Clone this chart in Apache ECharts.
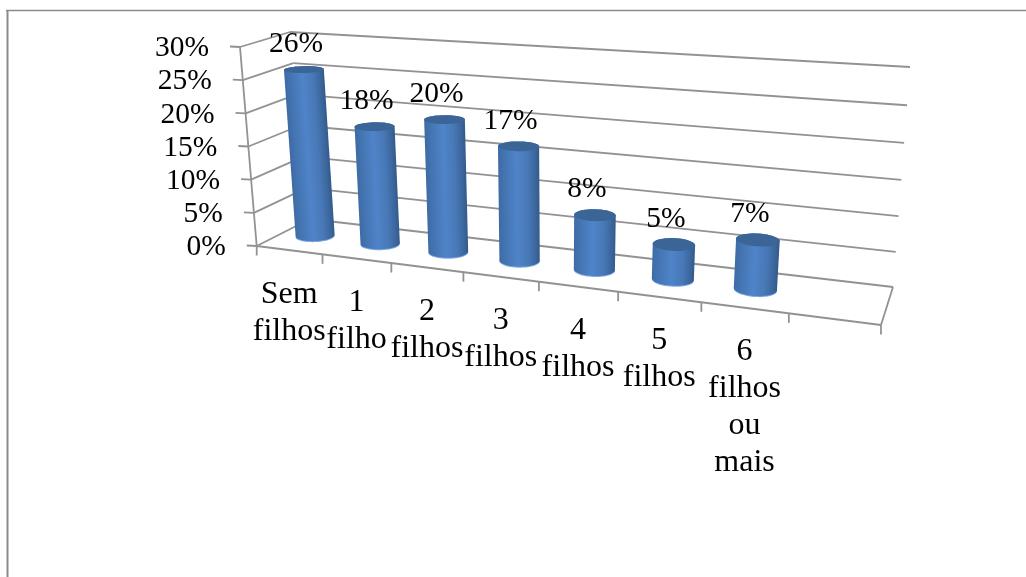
<!DOCTYPE html>
<html lang="pt">
<head>
<meta charset="utf-8">
<title>Número de filhos</title>
<style>html,body{margin:0;padding:0;background:#fff}#chart{width:1026px;height:577px}</style>
<script src="https://cdn.jsdelivr.net/npm/echarts@6/dist/echarts.min.js"></script>
</head>
<body>
<div id="chart"></div>
<script>
// The last category is an empty slot kept by the 3D axis.
const categories = ['Sem\nfilhos', '1\nfilho', '2\nfilhos', '3\nfilhos', '4\nfilhos', '5\nfilhos', '6\nfilhos\nou\nmais', ''];
const shares = [26, 18, 20, 17, 8, 5, 7];
const valueTicks = [0, 5, 10, 15, 20, 25, 30];

const FONT = '"Liberation Serif", "Times New Roman", serif';
const VALUE_SIZE = 29.5;
const CATEGORY_SIZE = 32;
const LINE = '#929292';

// Screen corners of the 3D box: front/back, left/right, bottom/top.
const box = {
  flb: [256.7, 246], flt: [240, 47],
  blb: [310, 219],   blt: [290, 32],
  frb: [881, 325],   frt: [901, 90],
  brb: [893, 287],   brt: [910, 67]
};

const mix = (a, b, t) => [a[0] + (b[0] - a[0]) * t, a[1] + (b[1] - a[1]) * t];

// Foreshortening along the category direction.
const warpX = u => u * 0.825 / (1 - 0.175 * u);

// t: warped position along the categories, v: height 0..1, w: depth 0 (front)..1 (back).
function project(t, v, w) {
  const k = -0.05 * t;
  const h = v * (1 + k) / (1 + k * v);
  const front = mix(mix(box.flb, box.frb, t), mix(box.flt, box.frt, t), h);
  const back = mix(mix(box.blb, box.brb, t), mix(box.blt, box.brt, t), h);
  return mix(front, back, w);
}

// Turns a pixel from the cartesian grid into fractions of the plot rectangle.
function toUnit(pt, sys) {
  return [(pt[0] - sys.x) / sys.width, (sys.y + sys.height - pt[1]) / sys.height];
}

function line(a, b, z2) {
  return {
    type: 'line', z2: z2 || 0,
    shape: { x1: a[0], y1: a[1], x2: b[0], y2: b[1] },
    style: { stroke: LINE, lineWidth: 1.8 }
  };
}

function label(text, x, y, align, verticalAlign, size, lineHeight) {
  return {
    type: 'text', z2: 20,
    style: {
      text, x, y, align, verticalAlign,
      fill: '#000', font: size + 'px ' + FONT, lineHeight: lineHeight || size
    }
  };
}

// Walls: one gridline per value tick, with its tick mark and label.
function renderValueTick(params, api) {
  const val = api.value(1);
  const v = toUnit(api.coord([0, val]), params.coordSys)[1];
  const a = project(0, v, 0), b = project(0, v, 1), c = project(1, v, 1);
  return {
    type: 'group',
    children: [
      line(a, b), line(b, c),
      line(a, [a[0] - 10, a[1] - 0.5]),
      label(val + '%', a[0] - 31, a[1] + 1.5, 'right', 'middle', VALUE_SIZE)
    ]
  };
}

// Floor edge: a tick at each band boundary and the category text below the band.
function renderCategory(params, api) {
  const i = api.value(0);
  const sys = params.coordSys;
  const band = api.size([1, 0])[0];
  const cx = api.coord([i, 0])[0];
  const tickAt = px => {
    const p = project(warpX((px - sys.x) / sys.width), 0, 0);
    return line(p, [p[0], p[1] + 9.5]);
  };
  const children = [tickAt(cx - band / 2)];
  if (i === categories.length - 1) {
    children.push(tickAt(cx + band / 2));
  }
  const c = project(warpX((cx - sys.x) / sys.width), 0, 0);
  if (categories[i]) {
    children.push(label(categories[i], c[0], c[1] + 25.5, 'center', 'top', CATEGORY_SIZE, 37));
  }
  return { type: 'group', children };
}

// Outline of the floor and the vertical value axis.
function renderFrame() {
  const fl = project(0, 0, 0), fr = project(1, 0, 0), br = project(1, 0, 1);
  return {
    type: 'group',
    children: [line(fl, fr), line(fr, br), line(fl, project(0, 1, 0))]
  };
}

// Cylinder verticals lean less than the left wall does.
function cylinderPoint(t, v, w) {
  const p = project(t, v * 0.985, w);
  return [p[0] + (1 - t) * (v * 3.5 - 1.2), p[1]];
}

function ring(t, v, rt, rw) {
  const pts = [];
  for (let a = 0; a < 48; a++) {
    const th = a / 48 * Math.PI * 2;
    pts.push(cylinderPoint(t + rt * Math.cos(th), v, 0.53 + rw * Math.sin(th)));
  }
  return pts;
}

function hull(points) {
  const p = points.slice().sort((a, b) => a[0] - b[0] || a[1] - b[1]);
  const cross = (o, a, b) => (a[0] - o[0]) * (b[1] - o[1]) - (a[1] - o[1]) * (b[0] - o[0]);
  const half = list => {
    const out = [];
    for (const q of list) {
      while (out.length > 1 && cross(out[out.length - 2], out[out.length - 1], q) <= 0) out.pop();
      out.push(q);
    }
    out.pop();
    return out;
  };
  return half(p).concat(half(p.reverse()));
}

// One cylinder with its top face and value label.
function renderCylinder(params, api) {
  const sys = params.coordSys;
  const unit = toUnit(api.coord([api.value(0), api.value(1)]), sys);
  const t = warpX(unit[0]);
  const rt = 0.0275 + 0.0098 * t;
  const rw = 0.19;
  const bottom = ring(t, 0, rt, rw);
  const top = ring(t, unit[1], rt, rw);
  const tc = cylinderPoint(t, unit[1], 0.53);
  const bc = cylinderPoint(t, 0, 0.53);
  const rim = bottom.map(p => [p[0], p[1] + 1]);

  // Shading runs across the cylinder, so its bands stay parallel to the leaning sides.
  const xs = bottom.map(p => p[0]);
  const hw = (Math.max.apply(null, xs) - Math.min.apply(null, xs)) / 2;
  const len = Math.hypot(tc[0] - bc[0], tc[1] - bc[1]) || 1;
  const nx = (bc[1] - tc[1]) / len, ny = (tc[0] - bc[0]) / len;
  const mx = (tc[0] + bc[0]) / 2, my = (tc[1] + bc[1]) / 2;
  const shade = new echarts.graphic.LinearGradient(
    mx - nx * hw, my - ny * hw, mx + nx * hw, my + ny * hw,
    [
      { offset: 0, color: '#3d6ba4' },
      { offset: 0.12, color: '#4373b0' },
      { offset: 0.45, color: '#4f84c9' },
      { offset: 0.72, color: '#4878b6' },
      { offset: 0.92, color: '#3a659b' },
      { offset: 1, color: '#335a8a' }
    ],
    true
  );

  return {
    type: 'group',
    children: [
      { type: 'polygon', z2: 10, shape: { points: rim }, style: { fill: '#7dabe4' } },
      { type: 'polygon', z2: 11, shape: { points: hull(bottom.concat(top)) }, style: { fill: shade } },
      { type: 'polygon', z2: 12, shape: { points: top }, style: { fill: '#3a6596' } },
      label(api.value(1) + '%', tc[0] - 8, tc[1] - 25.5, 'center', 'middle', VALUE_SIZE)
    ]
  };
}

const chart = echarts.init(document.getElementById('chart'), null, { renderer: 'canvas' });
chart.setOption({
  animation: false,
  backgroundColor: '#fff',
  grid: { left: 256, top: 47, width: 625, height: 199 },
  xAxis: { type: 'category', data: categories, show: false },
  yAxis: { type: 'value', min: 0, max: 30, interval: 5, show: false },
  graphic: [
    { type: 'line', silent: true, shape: { x1: 6, y1: 10.5, x2: 1026, y2: 10.5 }, style: { stroke: '#8b8b8b', lineWidth: 1.6 } },
    { type: 'line', silent: true, shape: { x1: 7.5, y1: 10, x2: 7.5, y2: 577 }, style: { stroke: '#8b8b8b', lineWidth: 2 } }
  ],
  series: [
    { type: 'custom', silent: true, z: 1, renderItem: renderValueTick, data: valueTicks.map(v => [0, v]), encode: { x: 0, y: 1 } },
    { type: 'custom', silent: true, z: 1, renderItem: renderFrame, data: [[0, 0]], encode: { x: 0, y: 1 } },
    { type: 'custom', silent: true, z: 1, renderItem: renderCategory, data: categories.map((c, i) => [i, 0]), encode: { x: 0, y: 1 } },
    { type: 'custom', silent: true, z: 2, renderItem: renderCylinder, data: shares.map((s, i) => [i, s]), encode: { x: 0, y: 1 } }
  ]
});
</script>
</body>
</html>
